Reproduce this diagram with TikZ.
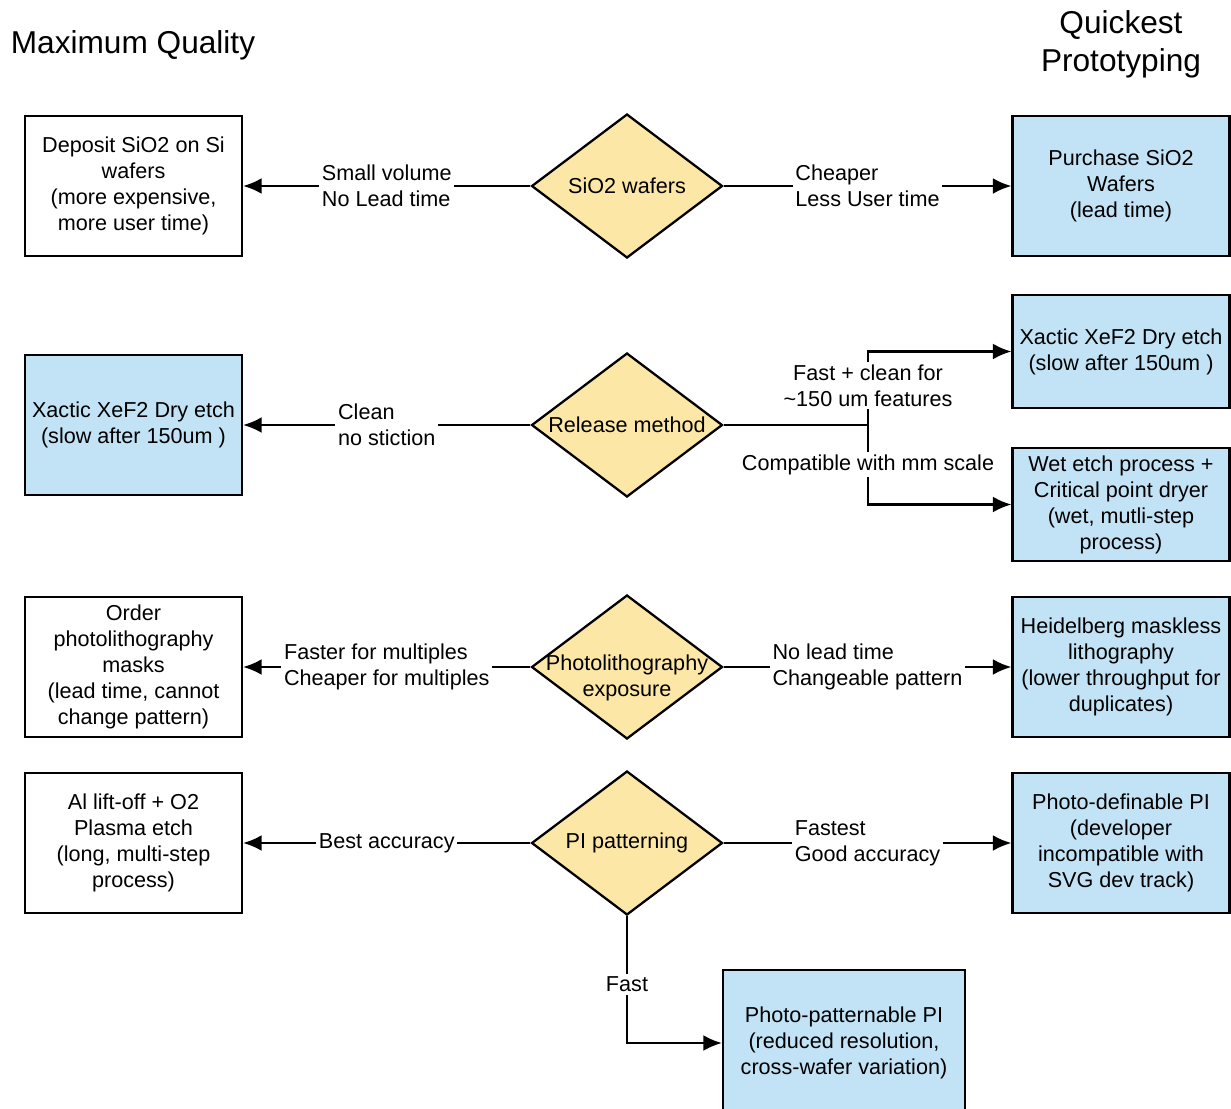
\documentclass[tikz,border=0pt]{standalone}
\usepackage{fontspec}
\setmainfont{Liberation Sans}
\usepackage{xcolor}
\usepackage{tikz}
\usetikzlibrary{arrows.meta,shapes.geometric}

\definecolor{optblue}{HTML}{C2E3F5}
\definecolor{decyel}{HTML}{FDE7A6}

\begin{document}
\begin{tikzpicture}[x=0.02cm, y=-0.02cm, line width=1.3pt,
        font=\fontsize{12.3pt}{14.8pt}\selectfont,
        opt/.style={draw, align=center, minimum width=4.34cm, minimum height=2.8cm, inner sep=2pt},
        fast/.style={opt, fill=optblue},
        dec/.style={diamond, draw, fill=decyel, minimum width=3.82cm, minimum height=2.88cm, inner sep=0pt},
        arr/.style={-{Latex[length=10.5pt,width=9pt]}},
        lbl/.style={fill=white, align=left, inner sep=1.5pt}]
        \useasboundingbox (0,0) rectangle (1231,1109);

        % Headings
        \node[font=\fontsize{18pt}{21.5pt}\selectfont] (hq) at (133,45) {Maximum Quality};
        \node[font=\fontsize{18pt}{21.5pt}\selectfont, align=center] (hp) at (1121,44) {Quickest\\Prototyping};

        % Row 1: SiO2 wafers
        \node[dec, label=center:{SiO2 wafers}] (sio) at (627,186) {};
        \node[opt] (dep) at (133.5,186) {Deposit SiO2 on Si\\wafers\\(more expensive,\\more user time)};
        \node[fast] (buy) at (1121,186) {Purchase SiO2\\Wafers\\(lead time)};
        \draw[arr] (sio) -- node[lbl] {Small volume\\No Lead time} (dep);
        \draw[arr] (sio) -- node[lbl] {Cheaper\\Less User time} (buy);

        % Row 2: release
        \node[dec, label=center:{Release method}] (rel) at (627,425) {};
        \node[fast] (xefL) at (133.5,425) {Xactic XeF2 Dry etch\\(slow after 150um )};
        \node[fast, minimum height=2.26cm] (xefR) at (1121,351.5) {Xactic XeF2 Dry etch\\(slow after 150um )};
        \node[fast, minimum height=2.26cm] (wet) at (1121,504.5) {Wet etch process +\\Critical point dryer\\(wet, mutli-step\\process)};
        \draw[arr] (rel) -- node[lbl] {Clean\\no stiction} (xefL);
        \draw (rel.east) -- (868,425) coordinate (fork);
        \draw[arr] (fork) |- node[lbl, align=center, pos=0.27] {Fast + clean for\\\textasciitilde150 um features} (xefR);
        \draw[arr] (fork) |- node[lbl, align=center, pos=0.25] {Compatible with mm scale} (wet);

        % Row 3: exposure
        \node[dec, label={[align=center, yshift=-0.22cm]center:Photolithography\\exposure}] (pho) at (627,667) {};
        \node[opt] (masks) at (133.5,667) {Order\\photolithography\\masks\\(lead time, cannot\\change pattern)};
        \node[fast] (heid) at (1121,667) {Heidelberg maskless\\lithography\\(lower throughput for\\duplicates)};
        \draw[arr] (pho) -- node[lbl] {Faster for multiples\\Cheaper for multiples} (masks);
        \draw[arr] (pho) -- node[lbl] {No lead time\\Changeable pattern} (heid);

        % Row 4: PI patterning
        \node[dec, label=center:{PI patterning}] (pip) at (627,843) {};
        \node[opt] (alox) at (133.5,843) {Al lift-off + O2\\Plasma etch\\(long, multi-step\\process)};
        \node[fast] (pidef) at (1121,843) {Photo-definable PI\\(developer\\incompatible with\\SVG dev track)};
        \node[fast, minimum width=4.84cm, minimum height=2.92cm] (pipat) at (844,1043) {Photo-patternable PI\\(reduced resolution,\\cross-wafer variation)};
        \draw[arr] (pip) -- node[lbl] {Best accuracy} (alox);
        \draw[arr] (pip) -- node[lbl] {Fastest\\Good accuracy} (pidef);
        \draw[arr] (pip.south) |- node[lbl, pos=0.27] {Fast} (pipat);
\end{tikzpicture}
\end{document}
